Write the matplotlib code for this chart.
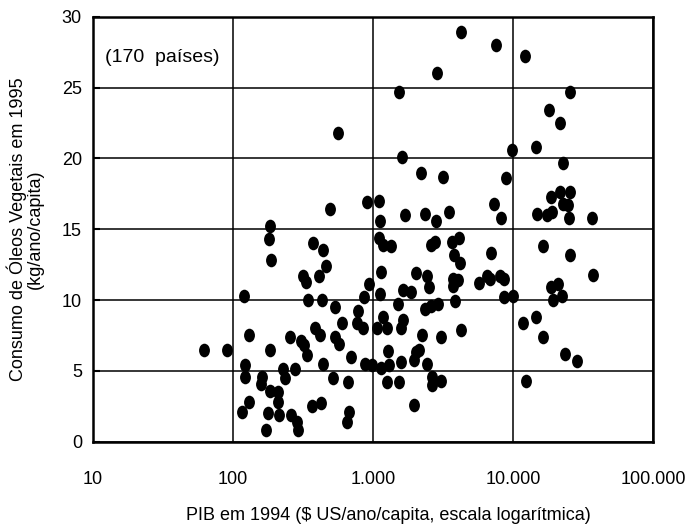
import numpy as np
import matplotlib
matplotlib.use("Agg")
import matplotlib.pyplot as plt
from matplotlib.path import Path
from matplotlib.transforms import Affine2D
from matplotlib.ticker import FixedLocator, NullLocator

plt.rcParams['font.family'] = ['Liberation Sans', 'DejaVu Sans']

# GDP per capita 1994 (US$/year/capita)
gdp = [
    62, 91,
    120, 131, 121, 121, 130, 116, 162, 159, 183, 185, 182, 188, 185, 210, 209, 177,
    214, 173, 228, 235, 279, 258, 288, 291, 255, 305, 323, 335, 315, 334, 341, 374,
    436, 460, 413, 431, 384, 421, 368, 424, 441, 497, 564, 531, 603, 534, 570, 516,
    665, 672, 654, 702, 775, 769, 849, 910, 869, 934, 883, 991,
    1100, 1130, 1100, 1175, 1150, 1120, 1180, 1060, 1260, 1275, 1150, 1300, 1260, 1355,
    1545, 1600, 2220, 2875, 3155, 4220, 1690, 2370, 2840, 3475, 1500, 1645, 1855, 2035,
    2430, 2520, 2575, 2795, 3640, 4100, 3775, 4215, 3755, 4045, 3740, 3880, 5700, 6550,
    6800, 6985, 7290, 7535, 8010, 8600, 8270, 8840, 8690, 10020, 2350, 2575, 2890, 1645,
    1585, 2245, 3085, 4230, 2015, 2125, 1960, 1585, 2450, 1530, 2650, 2650, 3035, 1960,
    9870, 12280, 14480, 18080, 21830, 22840, 25470, 18740, 21670, 25330, 22840, 24720,
    14720, 17560, 19050, 25120, 36650, 16330, 25330, 37150, 18530, 20800, 22440, 19230,
    11750, 14660, 16330, 23330, 28450, 12340,
]

# Vegetable oil consumption 1995 (kg/year/capita)
oil = [
    6.5, 6.5,
    10.3, 7.5, 5.4, 4.6, 2.8, 2.1, 4.6, 4.1, 6.5, 15.2, 14.3, 12.8, 3.6, 3.5, 2.8, 2.0,
    1.9, 0.8, 5.1, 4.5, 5.1, 1.9, 1.4, 0.8, 7.4, 7.1, 6.8, 6.1, 11.7, 11.3, 10.0, 14.0,
    13.5, 12.4, 11.7, 10.0, 8.0, 7.5, 2.5, 2.7, 5.5, 16.4, 21.8, 9.5, 8.4, 7.4, 6.9, 4.5,
    4.2, 2.1, 1.4, 6.0, 9.2, 8.4, 8.0, 16.9, 10.2, 11.1, 5.5, 5.4,
    17.0, 15.6, 14.4, 13.9, 12.0, 10.4, 8.8, 8.0, 8.0, 6.4, 5.2, 5.4, 4.2, 13.8,
    24.7, 20.1, 19.0, 26.0, 18.7, 28.9, 16.0, 16.1, 15.6, 16.2, 9.7, 10.7, 10.6, 11.9,
    11.7, 10.9, 13.9, 14.1, 14.1, 14.4, 13.2, 12.6, 11.5, 11.4, 11.0, 9.9, 11.2, 11.7,
    11.5, 13.3, 16.8, 28.0, 11.7, 11.5, 15.8, 18.6, 10.2, 10.3, 9.4, 9.6, 9.7, 8.6,
    8.0, 7.5, 7.4, 7.9, 6.3, 6.5, 5.8, 5.6, 5.5, 4.2, 4.6, 4.0, 4.3, 2.6,
    20.6, 27.2, 20.8, 23.4, 22.5, 19.7, 24.7, 17.3, 17.6, 17.6, 16.8, 16.7,
    16.1, 16.0, 16.2, 15.8, 15.8, 13.8, 13.2, 11.8, 10.9, 11.1, 10.3, 10.0,
    8.4, 8.8, 7.4, 6.2, 5.7, 4.3,
]

xticks = [10, 100, 1000, 10000, 100000]
xticklabels = ["10", "100", "1.000", "10.000", "100.000"]
yticks = [0, 5, 10, 15, 20, 25, 30]

fig = plt.figure(figsize=(6.9, 5.29), dpi=100)
ax = fig.add_axes([93/690, 1-441.7/529, 560/690, 425/529])

# elliptical marker (taller than wide)
circ = Path.unit_circle()
ell = Affine2D().scale(0.8, 1.0).transform_path(circ)

ax.scatter(gdp, oil, marker=ell, s=9.8**2, color='black', linewidths=0, zorder=3)

ax.set_xscale('log')
ax.set_xlim(10, 100000)
ax.set_ylim(0, 30)
ax.xaxis.set_major_locator(FixedLocator(xticks))
ax.xaxis.set_minor_locator(NullLocator())
ax.set_xticks(xticks)
ax.set_xticklabels(xticklabels)
ax.set_yticks(yticks)
ax.set_yticklabels([str(v) for v in yticks])

ax.grid(True, which='major', color='black', linewidth=1.1)
ax.set_axisbelow(True)
for s in ax.spines.values():
    s.set_linewidth(1.8)
    s.set_color('black')

ax.tick_params(axis='x', direction='in', length=0, pad=21, labelsize=13)
ax.tick_params(axis='y', direction='in', length=5, width=1.5, pad=8, labelsize=13)

ax.text(0.022, 0.905, "(170  países)", transform=ax.transAxes, fontsize=14,
        ha='left', va='center')

fig.text(388/690, 1-515/529, "PIB em 1994 ($ US/ano/capita, escala logarítmica)",
         ha='center', va='center', fontsize=13)
fig.text(25/690, 1-229/529, "Consumo de Óleos Vegetais em 1995\n(kg/ano/capita)",
         ha='center', va='center', rotation=90, multialignment='center',
         fontsize=13, linespacing=1.0)

fig.savefig("out.png", dpi=100)
